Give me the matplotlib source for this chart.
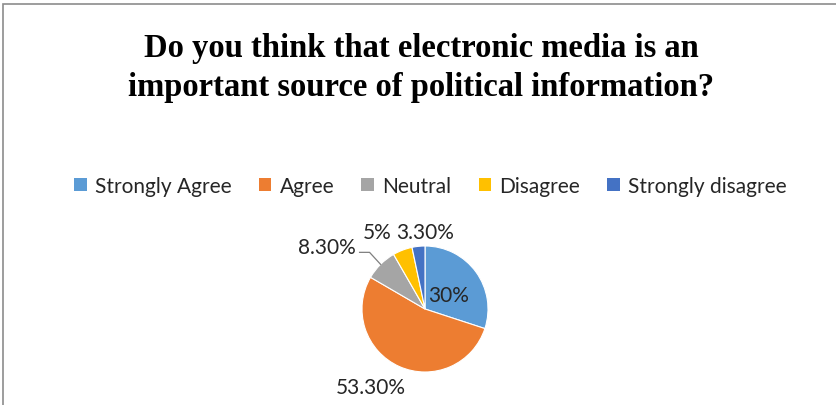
import numpy as np
import matplotlib
matplotlib.use("Agg")
import matplotlib.pyplot as plt
from matplotlib.patches import Patch, Rectangle

title = "Do you think that electronic media is an\nimportant source of political information?"
categories = ["Strongly Agree", "Agree", "Neutral", "Disagree", "Strongly disagree"]
shares = [30.0, 53.3, 8.3, 5.0, 3.3]
pct_labels = ["30%", "53.30%", "8.30%", "5%", "3.30%"]
colors = ["#5B9BD5", "#ED7D31", "#A5A5A5", "#FFC000", "#4472C4"]

W, H = 836, 406
fig = plt.figure(figsize=(W / 100, H / 100), dpi=100)
ax = fig.add_axes([0, 0, 1, 1])
ax.set_xlim(0, W)
ax.set_ylim(0, H)
ax.set_aspect("equal")
ax.axis("off")

# chart border (only top and left visible in crop)
ax.add_patch(Rectangle((3, -10), W + 20, H - 5 + 10, fill=False, edgecolor="#8c8c8c", lw=1.2))

fig.text(0.504, 1 - 68 / H, title, ha="center", va="center", family="Liberation Serif",
         fontweight="bold", fontsize=23.5, linespacing=1.32)

# pie, clockwise from 12 o'clock
cx, cy, R = 425, H - 310, 63
wedges, _ = ax.pie(shares, colors=colors, startangle=90, counterclock=False,
                   center=(cx, cy), radius=R, normalize=True,
                   wedgeprops=dict(edgecolor="white", linewidth=0.8))
ax.set_xlim(0, W)
ax.set_ylim(0, H)

# label placement: (angle deg, distance in radii, ha)
label_pos = [(31, 0.43, "center"), (235, 1.51, "center"), (138, 1.47, "right"),
             (122, 1.44, "center"), (90, 1.23, "center")]
for lab, (ang, d, ha) in zip(pct_labels, label_pos):
    x = cx + d * R * np.cos(np.radians(ang))
    y = cy + d * R * np.sin(np.radians(ang))
    ax.text(x, y, lab, ha=ha, va="center", family="Lato", fontsize=15, color="#262626")

# leader line for Neutral slice
w = wedges[2]
mid = np.radians((w.theta1 + w.theta2) / 2)
ex, ey = cx + R * np.cos(mid), cy + R * np.sin(mid)
ax.plot([ex, ex - 11, ex - 21], [ey, ey + 12, ey + 12], color="#7f7f7f", lw=0.9)

handles = [Patch(facecolor=c, edgecolor="none") for c in colors]
fig.legend(handles, categories, loc="center", bbox_to_anchor=(0.515, 1 - 187 / H), ncol=5,
           frameon=False, prop=dict(family="Lato", size=15), handlelength=0.6,
           handleheight=0.6, handletextpad=0.4, columnspacing=1.3, labelcolor="#262626")

fig.savefig("out.png", dpi=100)
